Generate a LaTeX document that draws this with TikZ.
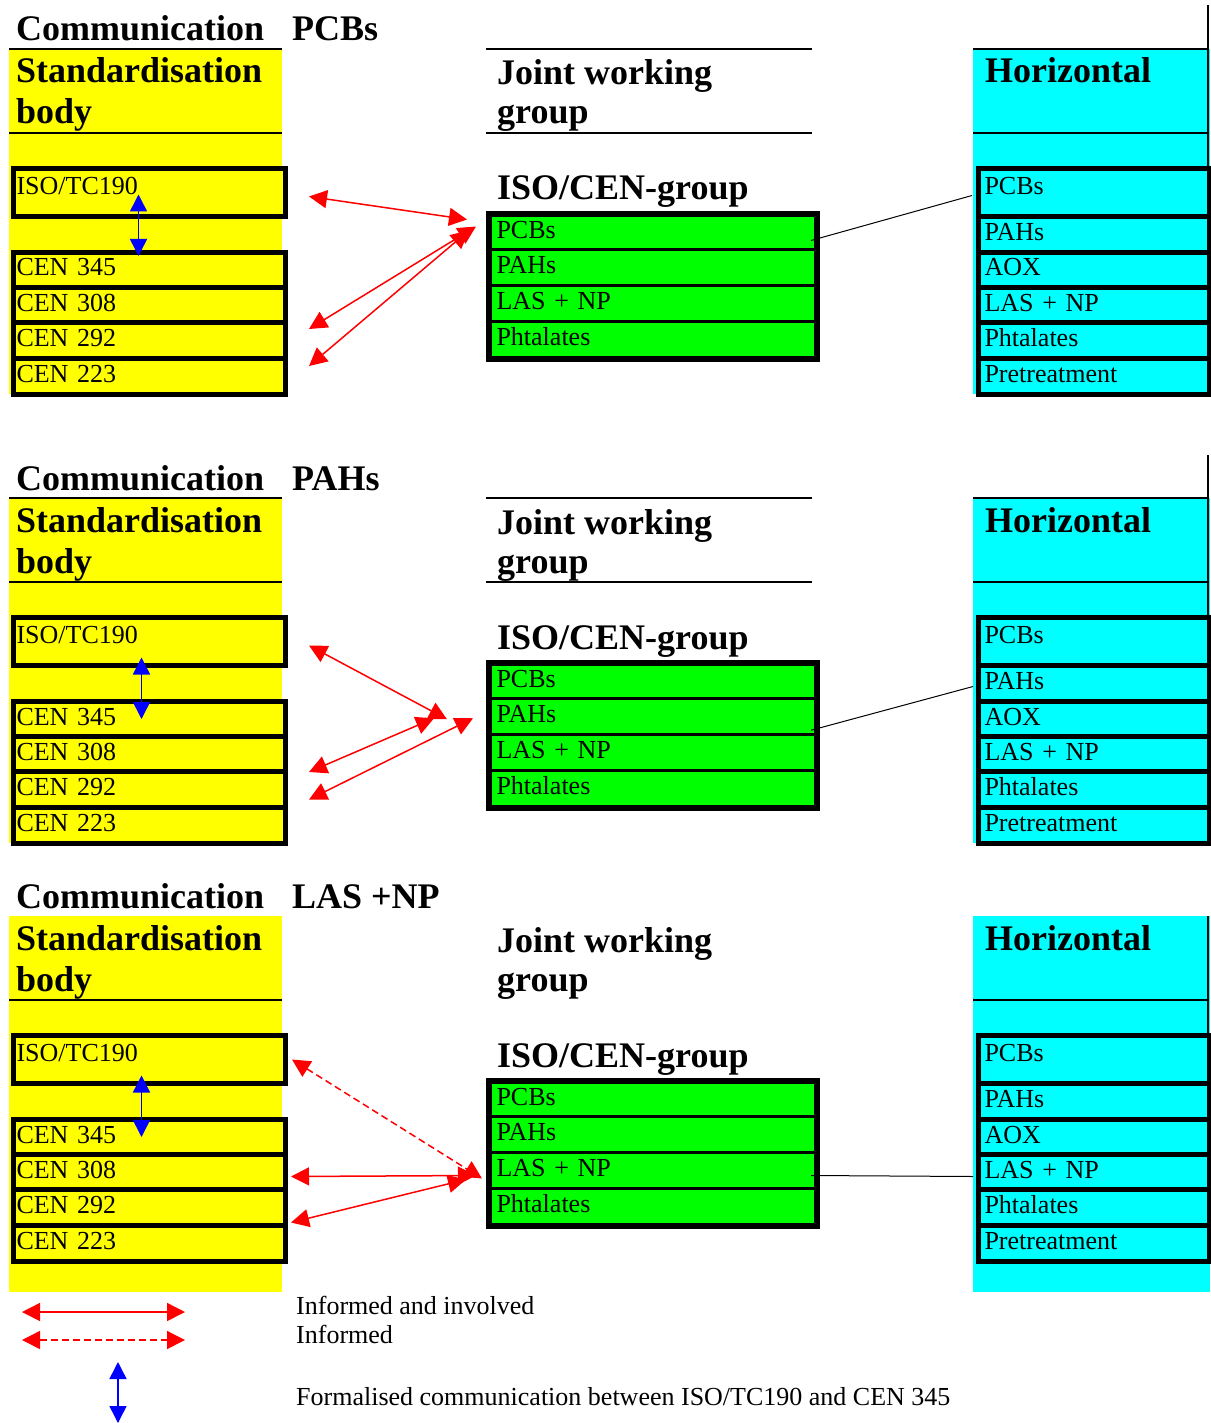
\documentclass[tikz,border=0pt]{standalone}
\usepackage{fontspec}
\setmainfont{Liberation Serif}
\usetikzlibrary{arrows.meta}

\definecolor{sbyellow}{RGB}{255,255,0}
\definecolor{jwgreen}{RGB}{0,255,0}
\definecolor{hzcyan}{RGB}{0,255,255}

\tikzset{
  headtxt/.style={font=\fontsize{36}{40}\selectfont\bfseries, anchor=base west, inner sep=0pt},
  legtxt/.style={font=\fontsize{26}{30}\selectfont, anchor=base west, inner sep=0pt},
  cellbox/.style={draw, rectangle, line width=5pt, anchor=north west, align=left,
    font=\fontsize{26}{30}\selectfont, text height=18pt, text depth=6pt, inner ysep=0pt},
  sbcell/.style={cellbox, fill=sbyellow, inner xsep=3pt, text width=266pt},
  jwcell/.style={cellbox, fill=jwgreen, line width=3pt, inner xsep=6pt, text width=313pt},
  hzcell/.style={cellbox, fill=hzcyan, inner xsep=6pt, text width=220pt},
  inv/.style={red, line width=1.5pt, arrows={Triangle[length=18pt,width=18pt]-Triangle[length=18pt,width=18pt]}},
  infd/.style={inv, dash pattern=on 7pt off 4pt},
  formal/.style={blue, line width=1.5pt, arrows={Triangle[length=17pt,width=17pt]-Triangle[length=17pt,width=17pt]}},
}

\newcommand{\commpanel}[4]{%
  \begin{scope}[yshift=-#2pt]
    \fill[sbyellow] (9,49) rectangle (282,#4);
    \fill[hzcyan] (973,49) rectangle (1210,#4);
    \draw[line width=1.5pt] (9,133) -- (282,133);
    \draw[line width=1.5pt] (973,133) -- (1208,133);
    \node[headtxt] (comm#1) at (16,41) {Communication};
    \node[headtxt] (topic#1) at (292,41) {#3};
    \node[headtxt] (std#1) at (16,83) {Standardisation};
    \node[headtxt] (body#1) at (16,124) {body};
    \node[headtxt] (jwg#1) at (497,85) {Joint working};
    \node[headtxt] (grp#1) at (497,124) {group};
    \node[headtxt] (isocen#1) at (497,200) {ISO/CEN-group};
    \node[headtxt] (hor#1) at (985,83) {Horizontal};
    \node[sbcell, minimum height=48pt, text depth=14pt] (iso#1) at (11,166) {ISO/TC190};
    \node[sbcell, minimum height=35pt] (c345#1) at (11,250) {CEN 345};
    \node[sbcell, minimum height=35pt] (c308#1) at (11,285) {CEN 308};
    \node[sbcell, minimum height=36pt] (c292#1) at (11,320) {CEN 292};
    \node[sbcell, minimum height=36pt] (c223#1) at (11,356) {CEN 223};
    \node[jwcell, minimum height=34pt] (gpcb#1) at (489,214) {PCBs};
    \node[jwcell, minimum height=35.5pt] (gpah#1) at (489,248) {PAHs};
    \node[jwcell, minimum height=36pt] (glas#1) at (489,283.5) {LAS + NP};
    \node[jwcell, minimum height=36.5pt] (gpht#1) at (489,319.5) {Phtalates};
    \draw[line width=6pt] (gpcb#1.north west) rectangle (gpht#1.south east);
    \node[hzcell, minimum height=48pt, text depth=14pt] (hpcb#1) at (976,166) {PCBs};
    \node[hzcell, minimum height=36pt] (hpah#1) at (976,214) {PAHs};
    \node[hzcell, minimum height=35pt] (haox#1) at (976,250) {AOX};
    \node[hzcell, minimum height=35pt] (hlas#1) at (976,285) {LAS + NP};
    \node[hzcell, minimum height=36pt] (hpht#1) at (976,320) {Phtalates};
    \node[hzcell, minimum height=36pt] (hpre#1) at (976,356) {Pretreatment};
  \end{scope}}

\begin{document}
\begin{tikzpicture}[x=1pt, y=-1pt]
  \useasboundingbox (0,0) rectangle (1210,1423);

  \commpanel{a}{0}{PCBs}{394}
  \commpanel{b}{449}{PAHs}{394}
  \commpanel{c}{867}{LAS +NP}{425}

  \foreach \off in {0,449} {
    \draw[line width=1.5pt] (9,49+\off) -- (282,49+\off);
    \draw[line width=1.5pt] (486,49+\off) -- (812,49+\off);
    \draw[line width=1.5pt] (486,133+\off) -- (812,133+\off);
    \draw[line width=1.5pt] (973,49+\off) -- (1208,49+\off);
  }
  \draw[line width=1.5pt] (1208,5) -- (1208,394);
  \draw[line width=1.5pt] (1208,455) -- (1208,843);
  \draw[line width=1.5pt] (1208,916) -- (1208,1262);

  \draw[inv] ([shift={(21,4)}]isoa.east) -- ([shift={(-22,-13)}]gpcba.west);
  \draw[inv] ([shift={(21,4)}]c308a.south east) -- ([shift={(-13,-6)}]gpcba.west);
  \draw[inv] ([shift={(21,5)}]c292a.south east) -- ([shift={(-20,-2)}]gpcba.west);
  \draw[formal] ([shift={(-11,2)}]isoa.center) -- ([shift={(-11,6)}]c345a.north);
  \draw[line width=1pt] ([shift={(-6,8)}]gpcba.east) -- ([shift={(-4,3)}]hpcba.west);

  \draw[inv] ([shift={(21,4)}]isob.east) -- ([shift={(-42,3)}]gpahb.west);
  \draw[inv] ([shift={(21,-2)}]c308b.south east) -- ([shift={(-55,2)}]gpahb.west);
  \draw[inv] ([shift={(21,10)}]c292b.east) -- ([shift={(-16,2)}]gpahb.west);
  \draw[formal] ([shift={(-8,16)}]isob.center) -- ([shift={(-8,20)}]c345b.north);
  \draw[line width=1pt] ([shift={(-6,14)}]gpahb.east) -- ([shift={(-3,3)}]hpahb.west);

  \draw[infd] ([shift={(4,0)}]isoc.east) -- ([shift={(-7,8.5)}]glasc.west);
  \draw[inv] ([shift={(3,4.5)}]c308c.east) -- ([shift={(-13,5.5)}]glasc.west);
  \draw[inv] ([shift={(3,15)}]c292c.east) -- ([shift={(-23,9.5)}]glasc.west);
  \draw[formal] ([shift={(-8,16)}]isoc.center) -- ([shift={(-8,20)}]c345c.north);
  \draw[line width=1pt] ([shift={(-6,5.5)}]glasc.east) -- ([shift={(-3,4.5)}]hlasc.west);

  \node[legtxt] (leginv) at (296,1314) {Informed and involved};
  \node[legtxt] (leginfd) at (296,1343) {Informed};
  \node[legtxt] (legformal) at (296,1405) {Formalised communication between ISO/TC190 and CEN 345};
  \coordinate (invl) at (22,1312);
  \coordinate (invr) at (185,1312);
  \coordinate (infdl) at (22,1340);
  \coordinate (infdr) at (185,1340);
  \coordinate (formt) at (118,1362);
  \coordinate (formb) at (118,1423);
  \draw[inv] (invl) -- (invr);
  \draw[infd] (infdl) -- (infdr);
  \draw[formal] (formt) -- (formb);
\end{tikzpicture}
\end{document}
